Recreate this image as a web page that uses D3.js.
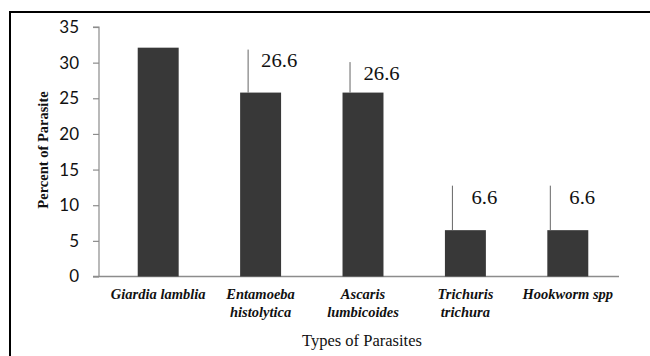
<!DOCTYPE html>
<html><head><meta charset="utf-8">
<script src="https://cdn.jsdelivr.net/npm/d3@7"></script>
<style>html,body{margin:0;padding:0;background:#fff;}svg{display:block;}
.serif{font-family:"Liberation Serif","Times New Roman",Times,serif;}</style>
</head><body>
<script>
// ---- data ----
const categories = [["Giardia lamblia"], ["Entamoeba", "histolytica"], ["Ascaris", "lumbicoides"], ["Trichuris", "trichura"], ["Hookworm spp"]];
const values = [32.1, 25.8, 25.8, 6.5, 6.5];
const labels = [null, "26.6", "26.6", "6.6", "6.6"];
const yTicks = [0, 5, 10, 15, 20, 25, 30, 35];
const yTitle = "Percent of Parasite";
const xTitle = "Types of Parasites";

// ---- layout (annotation leader lines / label offsets, pixels) ----
const annot = [null,
  {lx: 8, ltop: 43, tx: 21, ty: 26},
  {lx: 7.5, ltop: 30.5, tx: 21, ty: 12.5},
  {lx: 7.5, ltop: 44.5, tx: 26.5, ty: 26},
  {lx: 3, ltop: 44.5, tx: 22, ty: 26}];

const W = 650, H = 356;
const svg = d3.select("body").append("svg").attr("width", W).attr("height", H);
svg.append("rect").attr("width", W).attr("height", H).attr("fill", "#fff");
svg.append("rect").attr("x", 10).attr("y", 12).attr("width", 700).attr("height", 400)
  .attr("fill", "none").attr("stroke", "#000").attr("stroke-width", 2);

const axisX = 99, plotRight = 619;
const y = d3.scaleLinear().domain([0, 35]).range([276.5, 27]);
const x = d3.scaleBand().domain(d3.range(categories.length)).range([107, plotRight]).paddingInner(0.6).paddingOuter(0.3);

// y axis
const ya = svg.append("g").attr("transform", `translate(${axisX},0)`)
  .call(d3.axisLeft(y).tickValues(yTicks).tickSize(6).tickPadding(14).tickFormat(d3.format("d")));
ya.select(".domain").attr("stroke", "#8c8c8c").attr("stroke-width", 1.2).attr("d", `M-6,${y(35)}H0V${y(0)}`);
ya.selectAll(".tick line").attr("stroke", "#8c8c8c").attr("stroke-width", 1.2);
ya.selectAll(".tick text").attr("font-family", "Lato, 'Open Sans', sans-serif").attr("font-size", 17).attr("fill", "#111");

// x axis line
svg.append("line").attr("x1", axisX - 6).attr("x2", plotRight).attr("y1", y(0)).attr("y2", y(0))
  .attr("stroke", "#8c8c8c").attr("stroke-width", 1.5);

// bars
svg.append("g").selectAll("rect").data(values).join("rect")
  .attr("x", (d, i) => x(i)).attr("width", x.bandwidth())
  .attr("y", d => y(d)).attr("height", d => y(0) - y(d))
  .attr("fill", "#383838");

// annotations
values.forEach((v, i) => {
  if (!labels[i]) return;
  const a = annot[i];
  const top = y(v);
  svg.append("line").attr("x1", x(i) + a.lx).attr("x2", x(i) + a.lx)
    .attr("y1", top - a.ltop).attr("y2", top).attr("stroke", "#666").attr("stroke-width", 1);
  svg.append("text").attr("class", "serif")
    .attr("transform", `translate(${x(i) + a.tx},${top - a.ty}) scale(1.15,1)`)
    .attr("font-size", 18).attr("fill", "#111").text(labels[i]);
});

// category labels
categories.forEach((lines, i) => {
  const cx = x(i) + x.bandwidth() / 2;
  const t = svg.append("text").attr("class", "serif").attr("y", 299)
    .attr("text-anchor", "middle")
    .attr("font-style", "italic").attr("font-weight", "bold").attr("font-size", 14.5).attr("fill", "#111");
  lines.forEach((l, j) => t.append("tspan").attr("x", cx).attr("dy", j ? 18 : 0).text(l));
});

// titles
svg.append("text").attr("class", "serif").attr("x", (axisX + plotRight) / 2 + 3).attr("y", 346).attr("text-anchor", "middle")
  .attr("font-size", 16.5).attr("fill", "#111").text(xTitle);
svg.append("text").attr("class", "serif").attr("transform", `translate(48,150) rotate(-90)`).attr("text-anchor", "middle")
  .attr("font-weight", "bold").attr("font-size", 14.5).attr("fill", "#111").text(yTitle);
</script>
</body></html>
